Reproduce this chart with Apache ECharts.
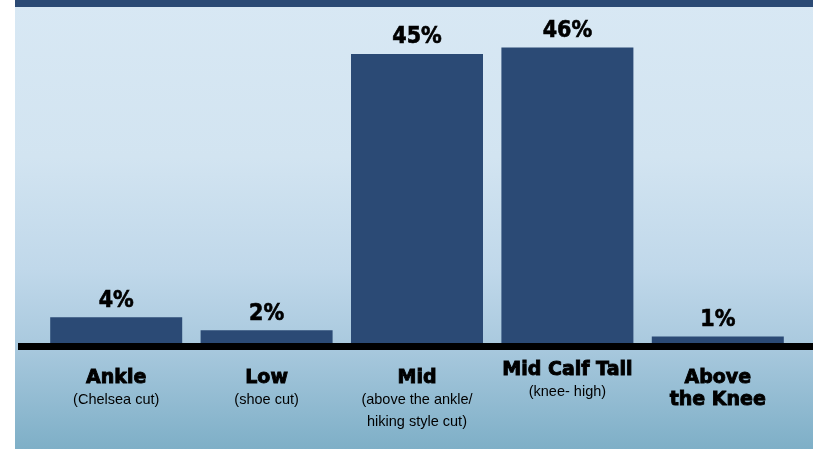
<!DOCTYPE html>
<html>
<head>
<meta charset="utf-8">
<script src="https://cdn.jsdelivr.net/npm/echarts@6/dist/echarts.min.js"></script>
<style>
  html, body { margin: 0; padding: 0; background: #ffffff; }
  #chart { width: 816px; height: 449px; }
</style>
</head>
<body>
<div id="chart"></div>
<script>
// Boot height preference
const categories = ['Ankle', 'Low', 'Mid', 'Mid Calf Tall', 'Above\nthe Knee'];
const notes = ['(Chelsea cut)', '(shoe cut)', '(above the ankle/\nhiking style cut)', '(knee- high)', ''];
const shares = [4, 2, 45, 46, 1];

const NAVY = '#2b4a75';
const raisedTitle = 'Mid Calf Tall';

const chart = echarts.init(document.getElementById('chart'), null, { renderer: 'canvas' });

function categoryLabel(value, idx) {
  const title = value.split('\n').map(t => '{t|' + t + '}').join('\n');
  const note = notes[idx] ? '\n' + notes[idx].split('\n').map(t => '{s|' + t + '}').join('\n') : '';
  const gap = value === raisedTitle ? '' : '{g| }\n';
  return gap + title + note;
}

chart.setOption({
  animation: false,
  backgroundColor: '#ffffff',
  graphic: [
    {
      type: 'rect', z: -10, silent: true,
      shape: { x: 15, y: 0, width: 798, height: 449 },
      style: {
        fill: new echarts.graphic.LinearGradient(0, 0, 0, 1, [
          { offset: 0, color: '#d8e8f4' },
          { offset: 0.35, color: '#d2e4f1' },
          { offset: 0.6, color: '#c0d8ea' },
          { offset: 0.77, color: '#a9c9de' },
          { offset: 1, color: '#7eafc7' }
        ])
      }
    },
    {
      type: 'rect', z: 10, silent: true,
      shape: { x: 15, y: 0, width: 798, height: 7 },
      style: { fill: NAVY }
    },
    {
      type: 'rect', z: 100, silent: true,
      shape: { x: 18, y: 343, width: 795, height: 7 },
      style: { fill: '#000000' }
    }
  ],
  grid: { left: 41, right: 23, top: 9, bottom: 106 },
  xAxis: {
    type: 'category',
    data: categories,
    axisLine: { show: false },
    axisTick: { show: false },
    axisLabel: {
      interval: 0,
      margin: 16,
      verticalAlign: 'top',
      formatter: categoryLabel,
      rich: {
        g: { fontSize: 4, lineHeight: 8 },
        t: {
          fontFamily: 'DejaVu Sans', fontWeight: 'bold', fontSize: 19,
          lineHeight: 22, color: '#000000', align: 'center',
          textBorderColor: '#000000', textBorderWidth: 0.9
        },
        s: {
          fontFamily: 'Liberation Sans', fontSize: 14.5,
          lineHeight: 22, color: '#000000', align: 'center'
        }
      }
    }
  },
  yAxis: {
    type: 'value',
    min: 0,
    max: 52,
    show: false,
    splitLine: { show: false }
  },
  series: [{
    type: 'bar',
    data: shares,
    barWidth: 132,
    itemStyle: { color: NAVY },
    label: {
      show: true,
      position: 'top',
      distance: 5,
      formatter: '{c}%',
      fontFamily: '"DejaVu Sans Condensed", "DejaVu Sans", sans-serif',
      fontWeight: 'bold',
      fontSize: 23,
      color: '#000000',
      textBorderColor: '#000000',
      textBorderWidth: 0.6
    }
  }]
});
</script>
</body>
</html>
